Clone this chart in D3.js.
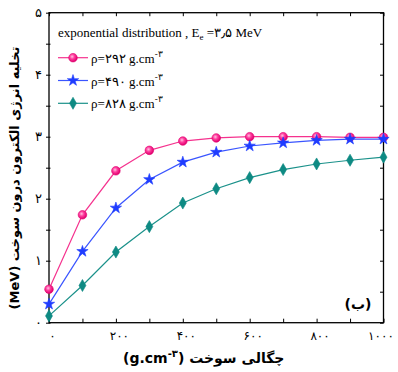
<!DOCTYPE html>
<html lang="fa">
<head>
<meta charset="UTF-8">
<title>chart</title>
<script src="https://d3js.org/d3.v7.min.js"></script>
<style>
  body { margin: 0; background: #fff; }
  svg { display: block; }
</style>
</head>
<body>
<div id="chart"></div>
<script>
// density values (g/cm^3)
var density = [0, 100, 200, 300, 400, 500, 600, 700, 800, 900, 1000];

// energy deposition (MeV)
var rho292 = [0.54, 1.74, 2.45, 2.78, 2.93, 2.98, 3.0, 3.0, 3.0, 2.99, 2.99];
var rho490 = [0.30, 1.15, 1.85, 2.31, 2.59, 2.75, 2.85, 2.90, 2.94, 2.96, 2.96];
var rho828 = [0.11, 0.60, 1.14, 1.55, 1.93, 2.16, 2.34, 2.47, 2.56, 2.62, 2.67];

var seriesNames = ["ρ=۲۹۲", "ρ=۴۹۰", "ρ=۸۲۸"];
var xTickLabels = ["۰", "۲۰۰", "۴۰۰", "۶۰۰", "۸۰۰", "۱۰۰۰"];
var yTickLabels = ["۰", "۱", "۲", "۳", "۴", "۵"];

var width = 398, height = 372;
// plot box (window.top is reserved, so use other names)
var pLeft = 49, pRight = 383.5, pTop = 12.7, pBottom = 322.7;

var svg = d3.select("#chart").append("svg")
    .attr("width", width)
    .attr("height", height);

var defs = svg.append("defs");
var grad = defs.append("radialGradient").attr("id", "pinkBall")
    .attr("cx", "40%").attr("cy", "38%").attr("r", "60%");
grad.append("stop").attr("offset", "0%").attr("stop-color", "#ffc2e0");
grad.append("stop").attr("offset", "45%").attr("stop-color", "#ff3d9e");
grad.append("stop").attr("offset", "100%").attr("stop-color", "#e0006e");

var x = d3.scaleLinear().domain([0, 1000]).range([pLeft, pRight]);
var y = d3.scaleLinear().domain([0, 5]).range([pBottom, pTop]);

var series = [
  { name: seriesNames[0], values: rho292, line: "#f5328e", fill: "url(#pinkBall)", stroke: "#e0006e", symbol: d3.symbolCircle, size: 58 },
  { name: seriesNames[1], values: rho490, line: "#3a55ff", fill: "#1f3cff", stroke: "#1f3cff", symbol: d3.symbolStar, size: 40 },
  { name: seriesNames[2], values: rho828, line: "#1a918a", fill: "#0e8a83", stroke: "#0e8a83", symbol: d3.symbolDiamond, size: 42 }
];

var persianFont = "'DejaVu Sans', sans-serif";
var serifFont = "'Liberation Serif', 'Times New Roman', serif";

// axes
function xFmt(d) {
  var i = [0, 200, 400, 600, 800, 1000].indexOf(d);
  return i >= 0 ? xTickLabels[i] : "";
}
function yFmt(d) {
  return Number.isInteger(d) ? yTickLabels[d] : "";
}

var xTicks = density;
var yTicks = [0, 0.5, 1, 1.5, 2, 2.5, 3, 3.5, 4, 4.5, 5];

var gx = svg.append("g").attr("transform", "translate(0," + pBottom + ")")
  .call(d3.axisBottom(x).tickValues(xTicks).tickSizeInner(-4).tickSizeOuter(0).tickPadding(9).tickFormat(xFmt));
gx.selectAll("text")
  .attr("dx", function(d) { return d === 1000 ? -3 : 3; })
  .style("font-family", persianFont).style("font-size", "12px");

svg.append("g").attr("transform", "translate(0," + pTop + ")")
  .call(d3.axisTop(x).tickValues(xTicks).tickSizeInner(-3.5).tickSizeOuter(0).tickFormat(""));

var gy = svg.append("g").attr("transform", "translate(" + pLeft + ",0)")
  .call(d3.axisLeft(y).tickValues(yTicks).tickSizeInner(3).tickSizeOuter(0).tickPadding(4).tickFormat(yFmt));
gy.selectAll("text").style("font-family", persianFont).style("font-size", "13px");
gy.selectAll(".tick line").attr("x2", -3).attr("x1", 1.5);

svg.append("g").attr("transform", "translate(" + pRight + ",0)")
  .call(d3.axisRight(y).tickValues(yTicks).tickSizeInner(-3.5).tickSizeOuter(0).tickFormat(""));

svg.selectAll(".domain").remove();
svg.selectAll(".tick line").attr("stroke", "#000").attr("stroke-width", 1);

// frame
svg.append("rect")
  .attr("x", pLeft).attr("y", pTop)
  .attr("width", pRight - pLeft).attr("height", pBottom - pTop)
  .attr("fill", "none").attr("stroke", "#000").attr("stroke-width", 1.3);

// lines and markers
var line = d3.line()
  .x(function(d, i) { return x(density[i]); })
  .y(function(d) { return y(d); });

series.forEach(function(s) {
  svg.append("path")
    .datum(s.values)
    .attr("d", line)
    .attr("fill", "none")
    .attr("stroke", s.line)
    .attr("stroke-width", 1.2);

  svg.append("g").selectAll("path")
    .data(s.values)
    .enter().append("path")
      .attr("d", d3.symbol().type(s.symbol).size(s.size))
      .attr("transform", function(d, i) { return "translate(" + x(density[i]) + "," + y(d) + ")"; })
      .attr("fill", s.fill)
      .attr("stroke", s.stroke)
      .attr("stroke-width", 0.6);
});

// legend title
var title = svg.append("text")
  .attr("x", 58).attr("y", 37)
  .style("font-family", serifFont).style("font-size", "13px");
title.append("tspan").text("exponential distribution  ,  E");
title.append("tspan").attr("dy", 3).style("font-size", "9px").text("e");
title.append("tspan").attr("dy", -3).text(" =۳٫۵ MeV");

// legend entries
var legend = svg.append("g");
series.forEach(function(s, i) {
  var ly = 57.7 + i * 22.8;
  legend.append("line")
    .attr("x1", 58).attr("x2", 88)
    .attr("y1", ly).attr("y2", ly)
    .attr("stroke", s.line).attr("stroke-width", 1.2);
  legend.append("path")
    .attr("d", d3.symbol().type(s.symbol).size(s.size))
    .attr("transform", "translate(73," + ly + ")")
    .attr("fill", s.fill).attr("stroke", s.stroke).attr("stroke-width", 0.6);
  var t = legend.append("text")
    .attr("x", 91).attr("y", ly + 5)
    .attr("direction", "ltr")
    .style("font-family", serifFont).style("font-size", "13px");
  t.append("tspan").text(s.name + " g.cm");
  t.append("tspan").attr("dy", -6).style("font-size", "9px").text("-۳");
});

// panel label
svg.append("text")
  .attr("x", 358).attr("y", 309)
  .attr("text-anchor", "middle")
  .attr("direction", "rtl")
  .style("font-family", persianFont).style("font-size", "14px").style("font-weight", "bold")
  .text("(ب)");

// y axis title
svg.append("text")
  .attr("transform", "translate(19,178) rotate(-90)")
  .attr("text-anchor", "middle")
  .attr("direction", "rtl")
  .style("font-family", persianFont).style("font-size", "13px").style("font-weight", "bold")
  .text("تخلیه انرژی الکترون درون سوخت (MeV)");

// x axis title
var xt = svg.append("text")
  .attr("x", 123).attr("y", 363)
  .attr("direction", "ltr")
  .style("font-family", persianFont).style("font-size", "14px").style("font-weight", "bold");
xt.append("tspan").text("(g.cm");
xt.append("tspan").attr("dy", -6).style("font-size", "10px").text("-۳");
xt.append("tspan").attr("dy", 6).text(") چگالی سوخت");
</script>
</body>
</html>
